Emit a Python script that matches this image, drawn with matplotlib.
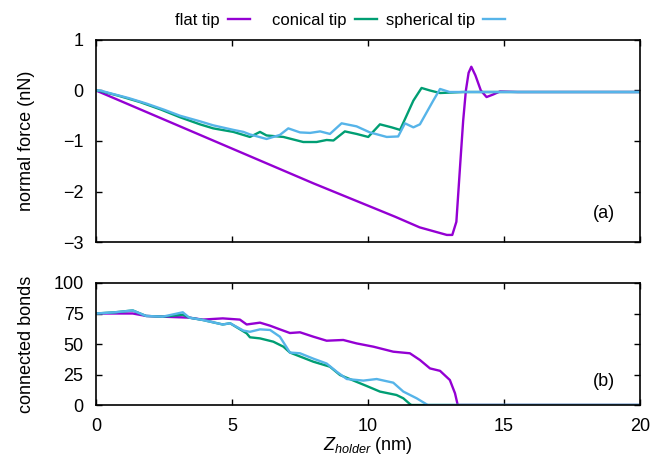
import matplotlib as mpl
import matplotlib.pyplot as plt
import numpy as np

plt.rcParams["font.family"] = ["Liberation Sans", "DejaVu Sans"]
plt.rcParams["font.size"] = 13
plt.rcParams["mathtext.fontset"] = "custom"
plt.rcParams["mathtext.it"] = "Liberation Sans:italic"
plt.rcParams["mathtext.rm"] = "Liberation Sans"

PURPLE = "#9400d3"
GREEN = "#009e73"
BLUE = "#56b4e9"

# normal force (nN) vs Z_holder (nm)
flat_z = [0, 2, 4, 6, 8, 9, 10, 11, 11.9, 12.5, 12.9, 13.1, 13.25, 13.4, 13.5, 13.6, 13.7, 13.8, 13.95, 14.15, 14.36, 14.6, 14.85, 15.5, 20]
flat_f = [0, -0.46, -0.92, -1.38, -1.84, -2.06, -2.28, -2.5, -2.71, -2.8, -2.86, -2.86, -2.6, -1.39, -0.6, 0.0, 0.35, 0.47, 0.3, 0.0, -0.13, -0.08, -0.02, -0.03, -0.03]

con_z = [0, 0.15, 0.8, 1.62, 2.4, 3.09, 3.82, 4.31, 5.05, 5.66, 6.03, 6.27, 6.89, 7.62, 8.11, 8.48, 8.73, 9.15, 9.58, 10.01, 10.44, 10.87, 11.18, 11.67, 11.97, 12.28, 12.65, 13.5, 20]
con_f = [0, -0.01, -0.1, -0.23, -0.38, -0.53, -0.67, -0.75, -0.82, -0.92, -0.82, -0.89, -0.92, -1.02, -1.02, -0.98, -0.99, -0.81, -0.86, -0.92, -0.67, -0.73, -0.78, -0.2, 0.05, 0.0, -0.05, -0.03, -0.03]

sph_z = [0, 0.15, 0.63, 1.2, 1.86, 2.5, 3.09, 3.82, 4.31, 5.05, 5.42, 5.66, 6.27, 6.76, 7.07, 7.5, 7.87, 8.24, 8.6, 9.03, 9.58, 10.07, 10.69, 11.11, 11.36, 11.67, 11.91, 12.4, 12.65, 13.0, 20]
sph_f = [0, 0.0, -0.07, -0.15, -0.26, -0.38, -0.5, -0.61, -0.69, -0.78, -0.82, -0.87, -0.96, -0.88, -0.75, -0.83, -0.84, -0.81, -0.86, -0.65, -0.71, -0.83, -0.92, -0.91, -0.65, -0.73, -0.67, -0.2, 0.03, -0.03, -0.03]

# connected bonds vs Z_holder (nm)
flat_bz = [0, 0.7, 1.35, 1.84, 2.45, 3.43, 3.92, 4.66, 5.29, 5.54, 6.03, 6.4, 6.76, 7.13, 7.5, 7.99, 8.48, 9.09, 9.58, 10.2, 10.93, 11.54, 11.91, 12.28, 12.65, 13.01, 13.2, 13.3, 20]
flat_b = [75, 75, 75, 73, 72.4, 71.6, 70, 71, 70, 66, 67.5, 65, 62, 59, 59.6, 56, 52.7, 53.3, 50.5, 47.8, 43.7, 42.4, 36.9, 30, 28, 20.5, 9.6, 0, 0]

con_bz = [0, 0.7, 1.35, 1.84, 2.45, 3.19, 3.43, 3.92, 4.66, 4.93, 5.54, 5.66, 6.03, 6.52, 6.89, 7.13, 7.99, 8.6, 8.97, 9.71, 9.95, 10.44, 11.05, 11.3, 11.54, 11.6, 20]
con_b = [75, 76, 77.5, 73, 72.4, 74, 71.6, 69.7, 66, 67, 58.7, 55.5, 54.6, 51.9, 47.8, 43, 35.5, 31.4, 24.6, 17.8, 15.6, 11, 8.2, 5.5, 0.8, 0, 0]

sph_bz = [0, 0.7, 1.35, 1.84, 2.45, 3.19, 3.43, 3.92, 4.66, 4.93, 5.42, 5.66, 6.03, 6.4, 6.76, 7.13, 7.5, 7.99, 8.48, 8.85, 9.22, 9.83, 10.32, 10.93, 11.3, 11.79, 12.16, 12.2, 20]
sph_b = [75, 76, 77.5, 73, 72.4, 76, 71.6, 69.7, 66, 67, 61, 60, 62, 61.5, 56, 43, 42.4, 38, 34, 27.3, 21.3, 20, 21.3, 18.3, 11, 5.5, 0.5, 0, 0]

fig = plt.figure(figsize=(6.51, 4.58), dpi=100)
ax1 = fig.add_axes([0.1475, 0.4716, 0.8355, 0.4411])
ax2 = fig.add_axes([0.1475, 0.1157, 0.8355, 0.2664])

lw = 1.7
l1, = ax1.plot(flat_z, flat_f, color=PURPLE, lw=lw, label="flat tip")
l2, = ax1.plot(con_z, con_f, color=GREEN, lw=lw, label="conical tip")
l3, = ax1.plot(sph_z, sph_f, color=BLUE, lw=lw, label="spherical tip")

ax2.plot(flat_bz, flat_b, color=PURPLE, lw=lw)
ax2.plot(con_bz, con_b, color=GREEN, lw=lw)
ax2.plot(sph_bz, sph_b, color=BLUE, lw=lw)

for ax in (ax1, ax2):
    ax.set_xlim(0, 20)
    ax.set_xticks([0, 5, 10, 15, 20])
    ax.tick_params(direction="in", length=4, top=True, right=True, width=1, pad=9)
    for s in ax.spines.values():
        s.set_linewidth(1.2)

ax1.set_ylim(-3, 1)
ax1.set_yticks([-3, -2, -1, 0, 1])
ax1.set_xticklabels([])
ax1.set_ylabel("normal force (nN)")
ax1.yaxis.set_label_coords(-0.112, 0.5)
ax1.text(0.955, 0.14, "(a)", transform=ax1.transAxes, ha="right", va="center")

ax2.set_ylim(0, 100)
ax2.set_yticks([0, 25, 50, 75, 100])
ax2.set_ylabel("connected bonds")
ax2.yaxis.set_label_coords(-0.112, 0.5)
ax2.set_xlabel(r"$Z_{holder}$ (nm)")
ax2.xaxis.set_label_coords(0.5, -0.335)
ax2.xaxis.label.set_va("center")
ax2.text(0.955, 0.19, "(b)", transform=ax2.transAxes, ha="right", va="center")

# gnuplot-style key: text first, sample line after
for h, xr in ((l1, 0.384), (l2, 0.579), (l3, 0.776)):
    fig.legend(handles=[h], loc="center right", bbox_to_anchor=(xr, 0.956),
               frameon=False, markerfirst=False, fontsize=12, handlelength=1.32,
               handletextpad=0.48, borderpad=0, borderaxespad=0)

fig.savefig("out.png", dpi=100)
